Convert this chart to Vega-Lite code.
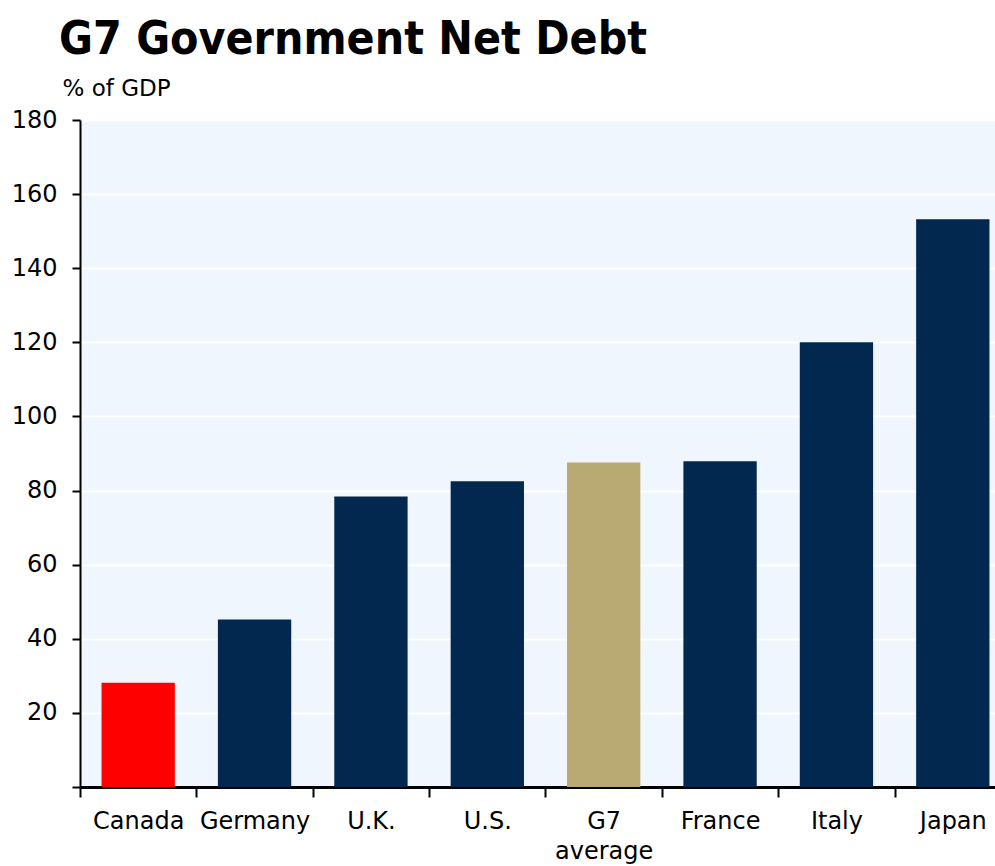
{
  "$schema": "https://vega.github.io/schema/vega-lite/v6.json",
  "autosize": "none",
  "width": 915,
  "height": 667,
  "padding": {"left": 80, "top": 120, "right": 0, "bottom": 79},
  "background": "white",
  "title": {
    "text": "G7 Government Net Debt",
    "anchor": "start",
    "frame": "group",
    "dx": -21,
    "offset": -23,
    "baseline": "alphabetic",
    "font": "DejaVu Sans Condensed",
    "fontWeight": "bold",
    "fontSize": 46,
    "color": "black"
  },
  "config": {
    "view": {"fill": "#EFF6FD", "stroke": null},
    "axis": {"labelFont": "DejaVu Sans", "titleFont": "DejaVu Sans", "labelColor": "black", "titleColor": "black"}
  },
  "data": {
    "values": [
      {"country": "Canada", "debt": 28.1, "group": "Canada"},
      {"country": "Germany", "debt": 45.2, "group": "Other"},
      {"country": "U.K.", "debt": 78.4, "group": "Other"},
      {"country": "U.S.", "debt": 82.5, "group": "Other"},
      {"country": "G7 average", "debt": 87.6, "group": "G7"},
      {"country": "France", "debt": 87.9, "group": "Other"},
      {"country": "Italy", "debt": 120.0, "group": "Other"},
      {"country": "Japan", "debt": 153.2, "group": "Other"}
    ]
  },
  "mark": {"type": "bar"},
  "encoding": {
    "x": {
      "field": "country",
      "type": "nominal",
      "sort": null,
      "scale": {"range": [0, 931], "paddingInner": 0.37, "paddingOuter": 0.185},
      "axis": {
        "title": null,
        "labelAngle": 0,
        "labelFontSize": 24,
        "labelPadding": 12,
        "labelExpr": "datum.value == 'G7 average' ? ['G7', 'average'] : datum.label",
        "labelLineHeight": 30,
        "tickOffset": -58.2,
        "labelOffset": 58.2,
        "tickSize": 10,
        "tickWidth": 2,
        "tickColor": "black",
        "domainColor": "black",
        "domainWidth": 3,
        "grid": false
      }
    },
    "y": {
      "field": "debt",
      "type": "quantitative",
      "scale": {"domain": [0, 180], "nice": false},
      "axis": {
        "values": [0, 20, 40, 60, 80, 100, 120, 140, 160, 180],
        "labelExpr": "datum.value == 0 ? '' : datum.label",
        "labelFontSize": 24,
        "labelPadding": 15,
        "tickSize": 8,
        "tickWidth": 2,
        "tickColor": "black",
        "domainColor": "black",
        "domainWidth": 2,
        "grid": true,
        "gridColor": "white",
        "gridWidth": 2,
        "title": "% of GDP",
        "titleFontSize": 23,
        "titleFontWeight": "normal",
        "titleAngle": 0,
        "titleAlign": "left",
        "titleBaseline": "alphabetic",
        "titleX": -18,
        "titleY": -25
      }
    },
    "color": {
      "field": "group",
      "type": "nominal",
      "scale": {"domain": ["Canada", "Other", "G7"], "range": ["#FF0000", "#02284F", "#B9A972"]},
      "legend": null
    }
  }
}
